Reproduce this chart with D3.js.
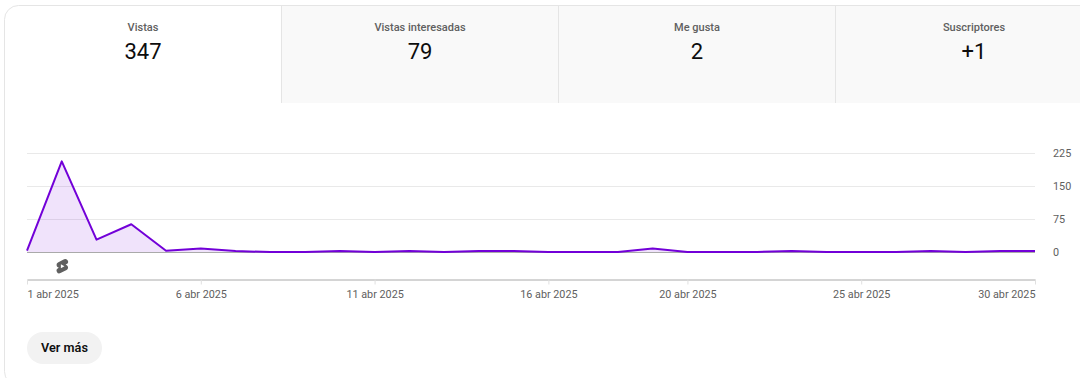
<!DOCTYPE html>
<html lang="es">
<head>
<meta charset="utf-8">
<script src="https://cdn.jsdelivr.net/npm/d3@7"></script>
<style>
  html, body { margin: 0; padding: 0; background: #fff; overflow: hidden; }
  svg { display: block; font-family: Roboto, sans-serif; }
</style>
</head>
<body>
<svg id="chart"></svg>
<script>
const width = 1080;
const height = 378;

// Values
const tabLabels = ["Vistas", "Vistas interesadas", "Me gusta", "Suscriptores"];
const tabValues = ["347", "79", "2", "+1"];
const days = d3.range(1, 31);
const views = [3, 206, 28, 63, 3, 8, 2, 0, 0, 2, 0, 2, 0, 2, 2, 0, 0, 0, 8, 0, 0, 0, 2, 0, 0, 0, 2, 0, 2, 2];
const yTicks = [0, 75, 150, 225];
const xTickDays = [1, 6, 11, 16, 20, 25, 30];
const shortsDays = [2];

const svg = d3.select("#chart")
  .attr("width", width)
  .attr("height", height)
  .attr("viewBox", [0, 0, width, height]);

const date = day => new Date(2025, 3, day);

const x = d3.scaleTime().domain([date(1), date(30)]).range([27, 1035]);
const y = d3.scaleLinear().domain([0, 225]).range([252, 153]);

// --- 1. Card and tabs ---
const tabX = d3.scaleLinear().domain([0, 1]).range([4, 281]);
const tabWidth = 277;

svg.append("clipPath").attr("id", "card-clip")
  .append("rect")
  .attr("x", 5).attr("y", 6)
  .attr("width", 1200).attr("height", 380)
  .attr("rx", 14);

const tabs = svg.append("g").selectAll("g")
  .data(tabLabels)
  .join("g")
  .attr("clip-path", "url(#card-clip)");

tabs.filter((d, i) => i > 0).append("rect")
  .attr("x", (d, i) => tabX(i + 1) - tabX(1) + 281)
  .attr("y", 5)
  .attr("width", tabWidth)
  .attr("height", 98)
  .attr("fill", "#f9f9f9");

tabs.filter((d, i) => i > 0).append("line")
  .attr("x1", (d, i) => tabX(i + 1) - tabX(1) + 281.5)
  .attr("x2", (d, i) => tabX(i + 1) - tabX(1) + 281.5)
  .attr("y1", 5)
  .attr("y2", 103)
  .attr("stroke", "#e5e5e5");

tabs.append("text")
  .attr("x", (d, i) => tabX(i) + 139)
  .attr("y", 31)
  .attr("text-anchor", "middle")
  .attr("font-size", 11)
  .attr("font-weight", 500)
  .attr("fill", "#606060")
  .text(d => d);

tabs.append("text")
  .attr("x", (d, i) => tabX(i) + 139)
  .attr("y", 59)
  .attr("text-anchor", "middle")
  .attr("font-size", 22)
  .attr("fill", "#0d0d0d")
  .text((d, i) => tabValues[i]);

svg.append("rect")
  .attr("x", 4.5).attr("y", 5.5)
  .attr("width", 1200).attr("height", 380)
  .attr("rx", 14)
  .attr("fill", "none")
  .attr("stroke", "#e5e5e5");

// --- 2. Axes ---
const yAxis = d3.axisRight(y)
  .tickValues(yTicks)
  .tickSize(0)
  .tickPadding(18);

const yAxisG = svg.append("g")
  .attr("transform", "translate(1035,0)")
  .call(yAxis);
yAxisG.select(".domain").remove();
yAxisG.selectAll("text")
  .attr("font-family", "Roboto, sans-serif")
  .attr("font-size", 10.8)
  .attr("fill", "#606060");

svg.append("g").selectAll("line")
  .data(yTicks)
  .join("line")
  .attr("x1", 27).attr("x2", 1035)
  .attr("y1", d => y(d) + 0.5).attr("y2", d => y(d) + 0.5)
  .attr("stroke", d => d === 0 ? "#aaaaaa" : "#e9e9e9");

const monthFormat = d => `${d.getDate()} abr ${d.getFullYear()}`;

const xAxis = d3.axisBottom(x)
  .tickValues(xTickDays.map(date))
  .tickFormat(monthFormat)
  .tickSize(5)
  .tickSizeOuter(0)
  .tickPadding(6);

const xAxisG = svg.append("g")
  .attr("transform", "translate(0,279.5)")
  .call(xAxis);
xAxisG.select(".domain").attr("stroke", "#aaaaaa");
xAxisG.selectAll("line").attr("stroke", "#e0e0e0");
xAxisG.selectAll("text")
  .attr("font-family", "Roboto, sans-serif")
  .attr("font-size", 10.8)
  .attr("fill", "#606060")
  .attr("text-anchor", (d, i) => i === 0 ? "start" : i === xTickDays.length - 1 ? "end" : "middle");

// --- 3. Area and line ---
const area = d3.area()
  .x((d, i) => x(date(days[i])))
  .y0(y(0))
  .y1(d => y(d));

const line = d3.line()
  .x((d, i) => x(date(days[i])))
  .y(d => y(d));

svg.append("path")
  .attr("d", area(views))
  .attr("fill", "#7600dc")
  .attr("fill-opacity", 0.11);

svg.append("path")
  .attr("d", line(views))
  .attr("fill", "none")
  .attr("stroke", "#7200d8")
  .attr("stroke-width", 2)
  .attr("stroke-linejoin", "round");

// --- 4. Shorts marker ---
const marker = svg.append("g").selectAll("g")
  .data(shortsDays)
  .join("g")
  .attr("transform", d => `translate(${x(date(d)) - 8.1},${257.6}) scale(0.72)`);

marker.append("path")
  .attr("fill", "#606060")
  .attr("d", "M17.77 10.32l-1.2-.5L18 9.06a3.74 3.74 0 00-3.5-6.62L6 6.94a3.74 3.74 0 00.23 6.74l1.2.49L6 14.93a3.75 3.75 0 003.5 6.63l8.5-4.5a3.74 3.74 0 00-.23-6.74z");

marker.append("path")
  .attr("fill", "#fff")
  .attr("d", "M10 14.65v-5.3L15 12l-5 2.65z");

// --- 5. Button ---
svg.append("rect")
  .attr("x", 27).attr("y", 332)
  .attr("width", 75).attr("height", 32)
  .attr("rx", 16)
  .attr("fill", "#f2f2f2");

svg.append("text")
  .attr("x", 64.5)
  .attr("y", 352)
  .attr("text-anchor", "middle")
  .attr("font-size", 12.7)
  .attr("font-weight", 600)
  .attr("fill", "#0f0f0f")
  .text("Ver más");
</script>
</body>
</html>
